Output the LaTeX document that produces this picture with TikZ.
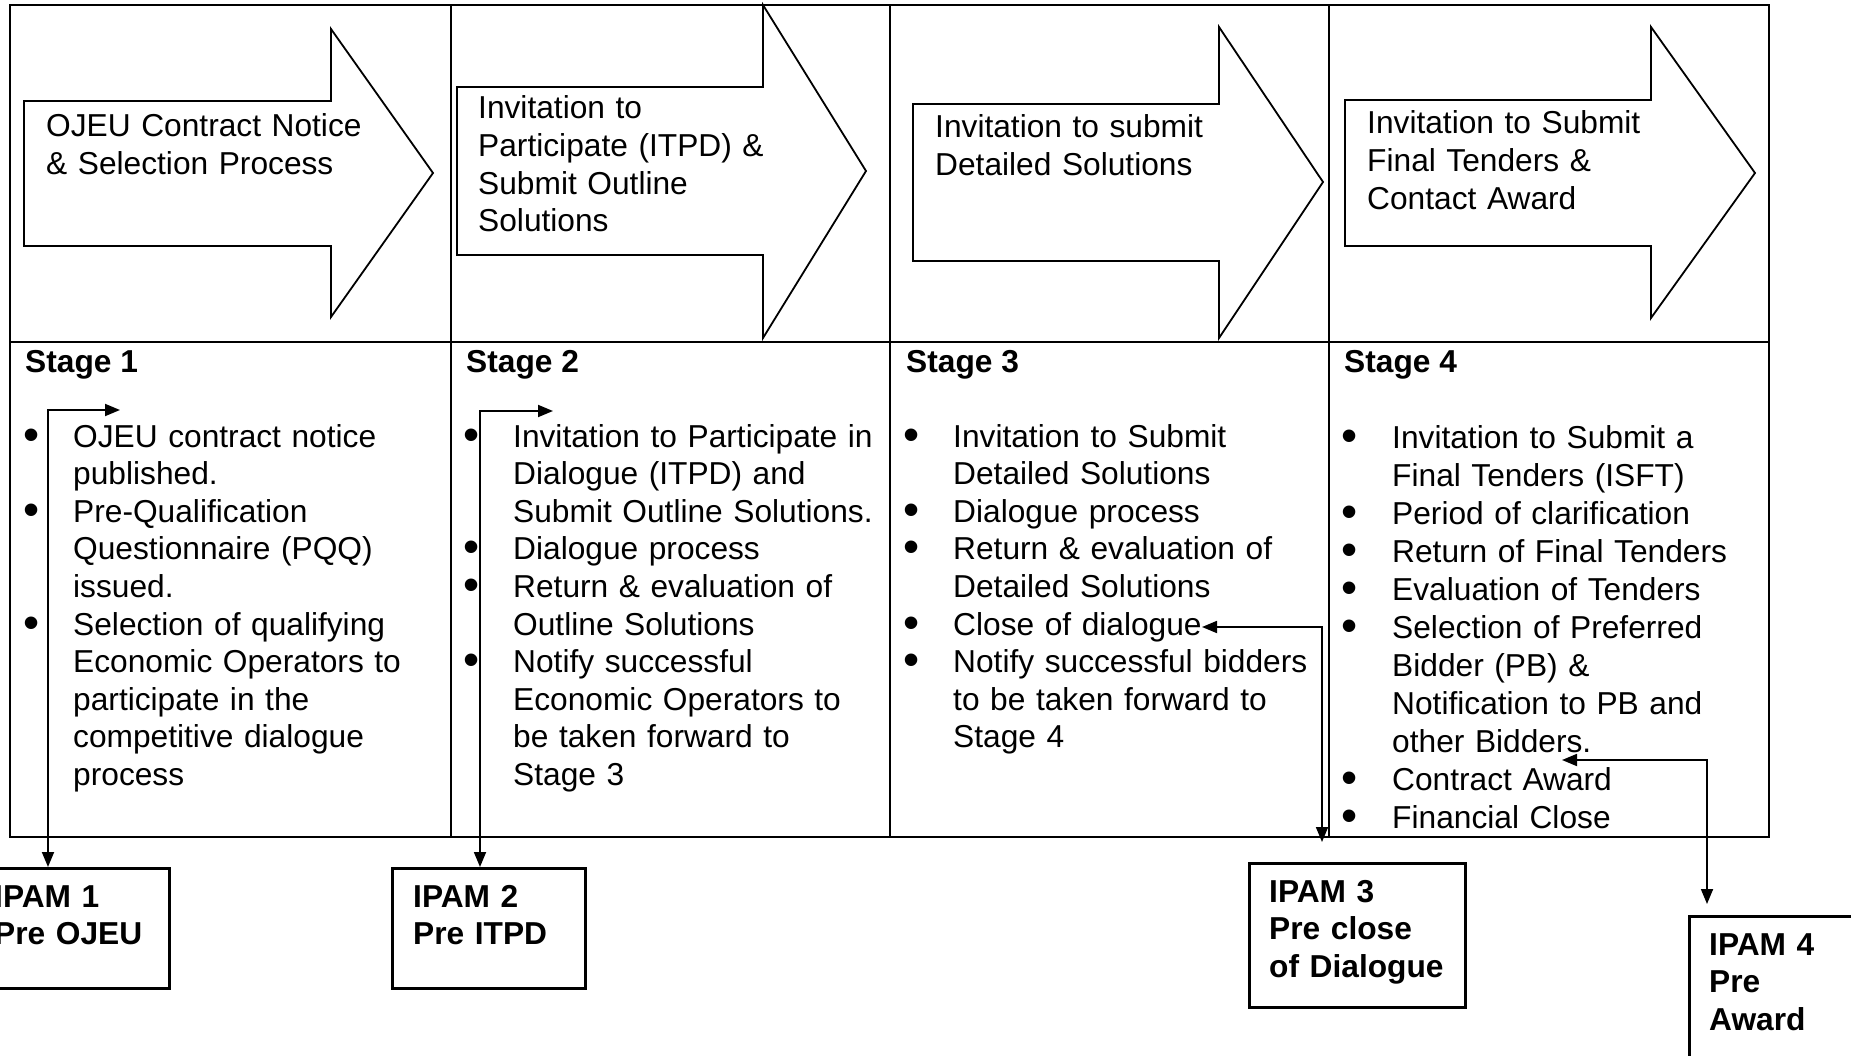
\documentclass[tikz,border=0pt]{standalone}
\usepackage{fontspec}
\setmainfont{Liberation Sans}
\usetikzlibrary{arrows.meta}
\newcommand\txtsize{\fontsize{31.7pt}{37.6pt}\selectfont}
\newcommand\txtsizeb{\fontsize{31.7pt}{38pt}\selectfont}
\newcommand\dotsize{\fontsize{46pt}{46pt}\selectfont}
\begin{document}
\begin{tikzpicture}[x=1pt,y=-1pt,
  grid/.style={line width=2.8pt},
  blockarrow/.style={draw,line width=1.8pt,line join=miter,fill=white},
  plain/.style={anchor=base west,inner sep=0pt,text width=372pt,align=left,font=\txtsize},
  plainb/.style={plain,font=\txtsizeb},
  head/.style={anchor=base west,inner sep=0pt,font=\txtsize\bfseries},
  dot/.style={anchor=base,inner sep=0pt,font=\dotsize,text height=20pt,text depth=0pt,yshift=-3pt},
  ipambox/.style={draw,line width=2.5pt,anchor=north west,inner sep=0pt},
  ipamtext/.style={anchor=base west,inner sep=0pt,text width=192pt,align=left,font=\txtsize\bfseries},
  link/.style={line width=1.8pt,{Triangle[length=15pt,width=12pt]}-{Triangle[length=15pt,width=12pt]}},
]
\useasboundingbox (0,0) rectangle (1851,1056);
\begin{scope}
\clip (0,0) rectangle (1851,1056);

% ---- table frame ----
\draw[grid] (10,5) rectangle (1769,837);
\draw[grid] (10,342) -- (1769,342);
\draw[grid] (451,5) -- (451,837);
\draw[grid] (890,5) -- (890,837);
\draw[grid] (1329,5) -- (1329,837);

% ---- block arrows ----
\draw[blockarrow] (24,101) -- (331,101) -- (331,29) -- (433,173) -- (331,317) -- (331,246) -- (24,246) -- cycle;
\draw[blockarrow] (457,87) -- (763,87) -- (763,5) -- (866,171) -- (763,338) -- (763,255) -- (457,255) -- cycle;
\draw[blockarrow] (913,104) -- (1219,104) -- (1219,27) -- (1323,182) -- (1219,338) -- (1219,261) -- (913,261) -- cycle;
\draw[blockarrow] (1345,100) -- (1651,100) -- (1651,27) -- (1755,173) -- (1651,318) -- (1651,246) -- (1345,246) -- cycle;

\node[plain] (a1) at (46,137) {OJEU Contract Notice\\\& Selection Process};
\node[plain] (a2) at (478,119) {Invitation to\\Participate (ITPD) \&\\Submit Outline\\Solutions};
\node[plain] (a3) at (935,138) {Invitation to submit\\Detailed Solutions};
\node[plain] (a4) at (1367,134) {Invitation to Submit\\Final Tenders \&\\Contact Award};

% ---- stage headings ----
\node[head] (h1) at (25,372) {Stage 1};
\node[head] (h2) at (466,372) {Stage 2};
\node[head] (h3) at (906,372) {Stage 3};
\node[head] (h4) at (1344,372) {Stage 4};

% ---- stage 1 list ----
\node[dot] (b11) at (32,447) {•};
\node[dot] (b12) at (32,522.2) {•};
\node[dot] (b13) at (32,635) {•};
\node[plain] (t11) at (73,447) {OJEU contract notice\\published.};
\node[plain] (t12) at (73,522.2) {Pre-Qualification\\Questionnaire (PQQ)\\issued.};
\node[plain] (t13) at (73,635) {Selection of qualifying\\Economic Operators to\\participate in the\\competitive dialogue\\process};

% ---- stage 2 list ----
\node[dot] (b21) at (472,447) {•};
\node[dot] (b22) at (472,559.8) {•};
\node[dot] (b23) at (472,597.4) {•};
\node[dot] (b24) at (472,672.6) {•};
\node[plain] (t21) at (513,447) {Invitation to Participate in\\Dialogue (ITPD) and\\Submit Outline Solutions.};
\node[plain] (t22) at (513,559.8) {Dialogue process};
\node[plain] (t23) at (513,597.4) {Return \& evaluation of\\Outline Solutions};
\node[plain] (t24) at (513,672.6) {Notify successful\\Economic Operators to\\be taken forward to\\Stage 3};

% ---- stage 3 list ----
\node[dot] (b31) at (912,447) {•};
\node[dot] (b32) at (912,522.2) {•};
\node[dot] (b33) at (912,559.8) {•};
\node[dot] (b34) at (912,635) {•};
\node[dot] (b35) at (912,672.6) {•};
\node[plain] (t31) at (953,447) {Invitation to Submit\\Detailed Solutions};
\node[plain] (t32) at (953,522.2) {Dialogue process};
\node[plain] (t33) at (953,559.8) {Return \& evaluation of\\Detailed Solutions};
\node[plain] (t34) at (953,635) {Close of dialogue};
\node[plain] (t35) at (953,672.6) {Notify successful bidders\\to be taken forward to\\Stage 4};

% ---- stage 4 list ----
\node[dot] (b41) at (1350,448) {•};
\node[dot] (b42) at (1350,524) {•};
\node[dot] (b43) at (1350,562) {•};
\node[dot] (b44) at (1350,600) {•};
\node[dot] (b45) at (1350,638) {•};
\node[dot] (b46) at (1350,790) {•};
\node[dot] (b47) at (1350,828) {•};
\node[plainb] (t41) at (1392,448) {Invitation to Submit a\\Final Tenders (ISFT)};
\node[plainb] (t42) at (1392,524) {Period of clarification};
\node[plainb] (t43) at (1392,562) {Return of Final Tenders};
\node[plainb] (t44) at (1392,600) {Evaluation of Tenders};
\node[plainb] (t45) at (1392,638) {Selection of Preferred\\Bidder (PB) \&\\Notification to PB and\\other Bidders.};
\node[plainb] (t46) at (1392,790) {Contract Award};
\node[plainb] (t47) at (1392,828) {Financial Close};

% ---- IPAM review boxes ----
\node[ipambox,minimum width=196pt,minimum height=120pt] (ipam1) at (-28,867) {};
\node[ipambox,minimum width=193pt,minimum height=120pt] (ipam2) at (391,867) {};
\node[ipambox,minimum width=216pt,minimum height=144pt] (ipam3) at (1248,862) {};
\node[ipambox,minimum width=220pt,minimum height=180pt] (ipam4) at (1688,915) {};

\node[ipamtext,text width=170pt] (ipam1t) at ([xshift=22pt,yshift=-40pt]ipam1.north west) {IPAM 1\\Pre OJEU};
\node[ipamtext,text width=170pt] (ipam2t) at ([xshift=22pt,yshift=-40pt]ipam2.north west) {IPAM 2\\Pre ITPD};
\node[ipamtext] (ipam3t) at ([xshift=21pt,yshift=-40pt]ipam3.north west) {IPAM 3\\Pre close\\of Dialogue};
\node[ipamtext,text width=130pt] (ipam4t) at ([xshift=21pt,yshift=-40pt]ipam4.north west) {IPAM 4\\Pre\\Award};

% ---- links between list items and IPAM boxes ----
\coordinate (s1tip) at (120,410);
\coordinate (s2tip) at (553,411);
\coordinate (s3tip) at (1202,627);
\coordinate (s4tip) at (1562,760);
\draw[link] (s1tip) -| ([xshift=76pt]ipam1.north west);
\draw[link] (s2tip) -| ([xshift=89pt]ipam2.north west);
\draw[link] (s3tip) -| ([xshift=74pt,yshift=20pt]ipam3.north west);
\draw[link] (s4tip) -| ([xshift=19pt,yshift=11pt]ipam4.north west);
\end{scope}
\end{tikzpicture}
\end{document}
